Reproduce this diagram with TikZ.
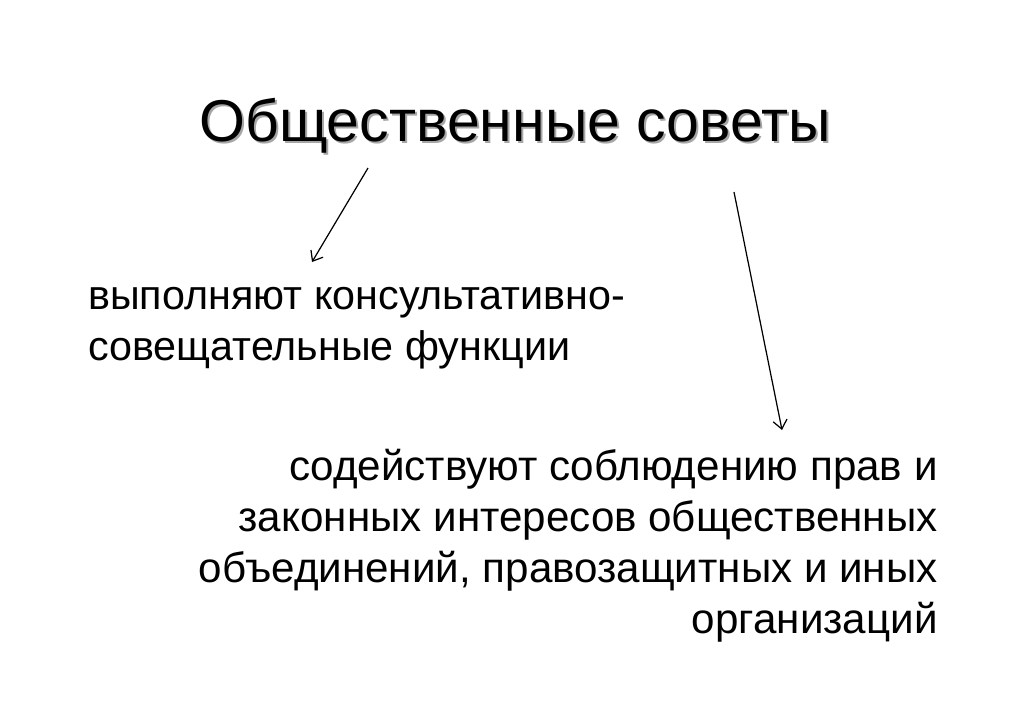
\documentclass[tikz,border=0pt]{standalone}
\usepackage{fontspec}
\setmainfont{Liberation Sans}
\usetikzlibrary{positioning,arrows.meta}

\begin{document}
\begin{tikzpicture}[
    x=0.02cm, y=-0.02cm,
    heading/.style={inner sep=0pt, font=\fontsize{33.6}{40}\selectfont},
    body/.style={inner sep=0pt, font=\fontsize{23.5}{28.9}\selectfont},
    arrow/.style={-{Straight Barb[length=5pt,width=8pt]}, line width=0.7pt}
]
\useasboundingbox[fill=white] (0,0) rectangle (1024,708);

% Title with its shadow
\node[heading, text=black!35, anchor=base] (shadow) at (517,143) {Общественные советы};
\node[heading, anchor=base] (title) at (515,141) {Общественные советы};

% Two statements
\node[body, align=left, anchor=base west] (func) at (88,360) {выполняют консультативно-\\совещательные функции};
\node[body, font=\fontsize{24}{29}\selectfont, align=right, anchor=base east] (help) at (938,633) {содействуют соблюдению прав и\\законных интересов общественных\\объединений, правозащитных и иных\\организаций};

% Arrow ends
\coordinate (a1) at (368,168);
\coordinate (b1) at (312,262);
\coordinate (a2) at (734,192);
\coordinate (b2) at (782,430);

\draw[arrow] (a1) -- (b1);
\draw[arrow] (a2) -- (b2);

\end{tikzpicture}
\end{document}
